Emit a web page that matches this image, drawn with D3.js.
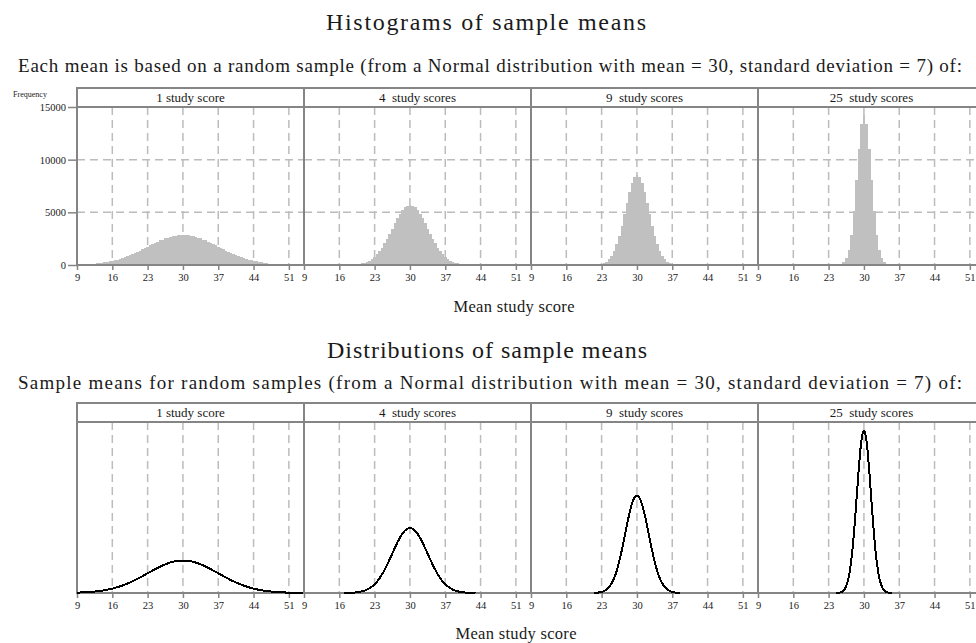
<!DOCTYPE html>
<html><head><meta charset="utf-8">
<script src="https://cdn.jsdelivr.net/npm/d3@7"></script>
<style>
body{margin:0;background:#fff}
text{font-family:"Liberation Serif","Times New Roman",serif;fill:#1a1a1a}
</style>
</head><body>
<svg id="chart" width="976" height="643"></svg>
<script>
// Panel labels (sample size per mean)
const panelLabels = ["1 study score", "4  study scores", "9  study scores", "25  study scores"];
const xTicks = [9, 16, 23, 30, 37, 44, 51];
const yTicks = [0, 5000, 10000, 15000];

// Histogram counts, bins of width 0.5 centred on these start values
const binWidth = 0.5;
const histStart = [9, 17, 21, 24.5];
const hist1 = [30,41,46,62,70,90,102,128,146,181,205,250,283,339,381,450,502,585,649,746,821,933,1019,1144,1238,1372,1474,1615,1719,1861,1965,2104,2199,2328,2410,2526,2591,2684,2727,2796,2811,2853,2841,2851,2812,2794,2727,2682,2592,2524,2411,2326,2199,2102,1965,1861,1719,1614,1474,1372,1238,1144,1018,934,820,748,647,587,499,453,377,342,278,255,200,186,140,134,98,90,66,62,42,44,28,30,18,16,12,10,6];
const hist4 = [6,10,16,26,41,63,96,143,209,299,418,574,771,1016,1311,1658,2054,2494,2966,3457,3947,4416,4840,5199,5471,5641,5699,5641,5471,5199,4840,4416,3947,3457,2966,2494,2054,1658,1311,1016,771,574,418,299,209,143,96,63,41,26,16,10,6];
const hist9 = [5,11,24,49,95,177,314,532,861,1331,1967,2776,3741,4816,5921,6953,7799,8355,8549,8355,7799,6953,5921,4816,3741,2776,1967,1331,861,532,314,177,95,49,24,11,5];
const hist25 = [6,24,81,240,626,1435,2893,5136,8027,11040,13369,14249,13369,11040,8027,5136,2893,1435,626,240,81,24,6];
const histSeries = [hist1, hist4, hist9, hist25];

// Density of the sample mean, sampled on a regular grid
const densStart = [9, 17, 21.5, 24.5];
const densStep = [1, 0.5, 0.5, 0.25];
const dens1 = [0.0006,0.0010,0.0014,0.0021,0.0030,0.0042,0.0057,0.0077,0.0102,0.0131,0.0166,0.0205,0.0249,0.0297,0.0346,0.0395,0.0442,0.0484,0.0520,0.0547,0.0564,0.0570,0.0564,0.0547,0.0520,0.0484,0.0442,0.0395,0.0346,0.0297,0.0249,0.0205,0.0166,0.0131,0.0102,0.0077,0.0057,0.0042,0.0030,0.0021,0.0014,0.0010,0.0006,0.0004,0.0002,0.0001];
const dens4 = [0.0001,0.0002,0.0003,0.0005,0.0008,0.0013,0.0019,0.0029,0.0042,0.0060,0.0084,0.0115,0.0154,0.0203,0.0262,0.0332,0.0411,0.0499,0.0593,0.0691,0.0790,0.0883,0.0968,0.1040,0.1094,0.1128,0.1140,0.1128,0.1094,0.1040,0.0968,0.0883,0.0790,0.0691,0.0593,0.0499,0.0411,0.0332,0.0262,0.0203,0.0154,0.0115,0.0084,0.0060,0.0042,0.0029,0.0019,0.0013,0.0008,0.0005,0.0003,0.0002,0.0001];
const dens9 = [0.0002,0.0005,0.0010,0.0019,0.0035,0.0063,0.0106,0.0172,0.0266,0.0393,0.0555,0.0748,0.0963,0.1184,0.1391,0.1560,0.1671,0.1710,0.1671,0.1560,0.1391,0.1184,0.0963,0.0748,0.0555,0.0393,0.0266,0.0172,0.0106,0.0063,0.0035,0.0019,0.0010,0.0005,0.0002];
const dens25 = [0.0001,0.0003,0.0005,0.0009,0.0016,0.0028,0.0048,0.0079,0.0125,0.0193,0.0287,0.0414,0.0579,0.0783,0.1027,0.1305,0.1605,0.1913,0.2208,0.2469,0.2674,0.2805,0.2850,0.2805,0.2674,0.2469,0.2208,0.1913,0.1605,0.1305,0.1027,0.0783,0.0579,0.0414,0.0287,0.0193,0.0125,0.0079,0.0048,0.0028,0.0016,0.0009,0.0005,0.0003,0.0001];
const densSeries = [dens1, dens4, dens9, dens25];

const svg = d3.select("#chart");
const frameColor = "#858585";
const gridColor = "#bcbcbc";
const panelLeft = 77, panelW = 227;
const xDomain = [9, 54];

const histSec = {stripTop: 88, plotTop: 107, plotBottom: 265};
const densSec = {stripTop: 403, plotTop: 422, plotBottom: 593};

const yHist = d3.scaleLinear([0, 15000], [histSec.plotBottom, histSec.plotTop]);
const yDens = d3.scaleLinear([0, 0.3], [densSec.plotBottom, densSec.plotTop]);

const defs = svg.append("defs");

function addText(x, y, s, size, anchor, len) {
  const t = svg.append("text").attr("x", x).attr("y", y).attr("font-size", size)
    .attr("text-anchor", anchor || "middle").style("white-space", "pre").text(s);
  if (len) t.attr("textLength", len).attr("lengthAdjust", "spacing");
  return t;
}

// Titles
addText(486, 30, "Histograms of sample means", 24, "middle", 320);
addText(490, 72, "Each mean is based on a random sample (from a Normal distribution with mean = 30, standard deviation = 7) of:", 19, "middle", 944);
addText(514, 312, "Mean study score", 16.5, "middle", 121);
addText(487, 358, "Distributions of sample means", 24, "middle", 320);
addText(490, 389, "Sample means for random samples (from a Normal distribution with mean = 30, standard deviation = 7) of:", 19, "middle", 944);
addText(516, 639, "Mean study score", 16.5, "middle", 121);
addText(30, 97, "Frequency", 8, "middle");

function drawSection(sec, isHist) {
  const g = svg.append("g");
  panelLabels.forEach((label, i) => {
    const x0 = panelLeft + i * panelW;
    const x = d3.scaleLinear(xDomain, [x0, x0 + panelW]);
    const pg = g.append("g");
    const clipId = (isHist ? "ch" : "cd") + i;
    defs.append("clipPath").attr("id", clipId).append("rect")
      .attr("x", x0).attr("y", sec.plotTop - 2).attr("width", panelW).attr("height", sec.plotBottom - sec.plotTop + 4);

    // dashed grid
    xTicks.filter(t => t > 9).forEach(t => {
      pg.append("line").attr("x1", x(t)).attr("x2", x(t)).attr("y1", sec.plotTop).attr("y2", sec.plotBottom)
        .attr("stroke", gridColor).attr("stroke-width", 1.5).attr("stroke-dasharray", "8,5");
    });
    if (isHist) {
      yTicks.filter(t => t > 0 && t < 15000).forEach(t => {
        pg.append("line").attr("x1", x0).attr("x2", x0 + panelW).attr("y1", yHist(t)).attr("y2", yHist(t))
          .attr("stroke", gridColor).attr("stroke-width", 1.5).attr("stroke-dasharray", "8,5");
      });
      const vals = histSeries[i];
      pg.append("g").attr("clip-path", `url(#${clipId})`).selectAll("rect").data(vals).join("rect")
        .attr("x", (d, k) => x(histStart[i] + k * binWidth - binWidth / 2))
        .attr("width", x(binWidth) - x(0) + 0.3)
        .attr("y", d => yHist(d))
        .attr("height", d => yHist(0) - yHist(d))
        .attr("fill", "#c0c0c0").attr("shape-rendering", "crispEdges");
    }

    // x axis
    const ax = pg.append("g").attr("transform", `translate(0,${sec.plotBottom})`)
      .call(d3.axisBottom(x).tickValues(xTicks).tickSize(5).tickPadding(4).tickFormat(d3.format("d")));
    ax.select(".domain").remove();
    ax.selectAll(".tick line").attr("stroke", frameColor).attr("stroke-width", 1.5);
    ax.selectAll(".tick text").attr("font-size", 10.5).attr("font-family", "Liberation Serif").attr("fill", "#1a1a1a");

    // frame and strip
    pg.append("rect").attr("x", x0).attr("y", sec.plotTop).attr("width", panelW).attr("height", sec.plotBottom - sec.plotTop)
      .attr("fill", "none").attr("stroke", frameColor).attr("stroke-width", 2);
    pg.append("rect").attr("x", x0).attr("y", sec.stripTop).attr("width", panelW).attr("height", sec.plotTop - sec.stripTop)
      .attr("fill", "#fff").attr("stroke", frameColor).attr("stroke-width", 2);
    pg.append("text").attr("x", x0 + panelW / 2).attr("y", sec.stripTop + 14).attr("font-size", 13)
      .attr("text-anchor", "middle").style("white-space", "pre").text(label);

    if (!isHist) {
      const vals = densSeries[i];
      const line = d3.line()
        .x((d, k) => x(densStart[i] + k * densStep[i]))
        .y(d => yDens(d))
        .curve(d3.curveMonotoneX);
      pg.append("path").attr("d", line(vals)).attr("fill", "none").attr("stroke", "#000")
        .attr("stroke-width", 2).attr("shape-rendering", "crispEdges");
    }
  });

  if (isHist) {
    const ay = g.append("g").attr("transform", `translate(${panelLeft},0)`)
      .call(d3.axisLeft(yHist).tickValues(yTicks).tickSize(9).tickPadding(2).tickFormat(d3.format("d")));
    ay.select(".domain").remove();
    ay.selectAll(".tick line").attr("stroke", frameColor).attr("stroke-width", 1.5);
    ay.selectAll(".tick text").attr("font-size", 10.5).attr("font-family", "Liberation Serif").attr("fill", "#1a1a1a");
  }
}

drawSection(histSec, true);
drawSection(densSec, false);
</script>
</body></html>
